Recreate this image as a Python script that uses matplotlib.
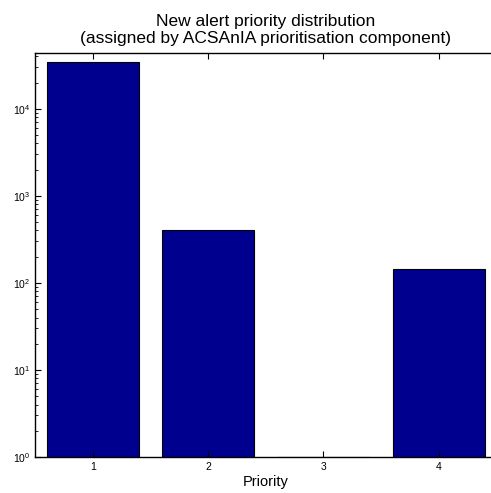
import matplotlib
matplotlib.use('Agg')
import matplotlib.pyplot as plt
import numpy as np

plt.rcParams['font.family'] = ['Liberation Sans', 'DejaVu Sans']
plt.rcParams['mathtext.fontset'] = 'custom'
plt.rcParams['mathtext.rm'] = 'Liberation Sans'
plt.rcParams['mathtext.it'] = 'Liberation Sans:italic'

# Données
priorities = [1, 2, 3, 4]
counts = [34000, 400, 1, 145]

fig = plt.figure(figsize=(4.91, 4.93), dpi=100)
ax = fig.add_axes([0.0713, 0.073, 0.94, 0.82])

ax.bar(priorities, counts, width=0.8, color='#00008F', edgecolor='black',
       linewidth=0.8, bottom=0)
ax.set_yscale('log')
ax.set_ylim(1, 4.4e4)
ax.set_xlim(0.5, 4.5)
ax.set_xticks(priorities)
ax.set_xticklabels([str(p) for p in priorities])

ax.tick_params(which='both', direction='in', top=True, right=True, labelsize=7.5)
ax.tick_params(which='major', length=4)
ax.tick_params(which='minor', length=2)
ax.tick_params(axis='x', which='minor', bottom=False, top=False)
for s in ax.spines.values():
    s.set_linewidth(1.0)

ax.set_xlabel('Priority', fontsize=10.5, labelpad=2)
ax.set_title('New alert priority distribution\n(assigned by ACSAnIA prioritisation component)',
             fontsize=12.5, pad=7, linespacing=1.2)

plt.savefig('out.png', dpi=100)
plt.close()
